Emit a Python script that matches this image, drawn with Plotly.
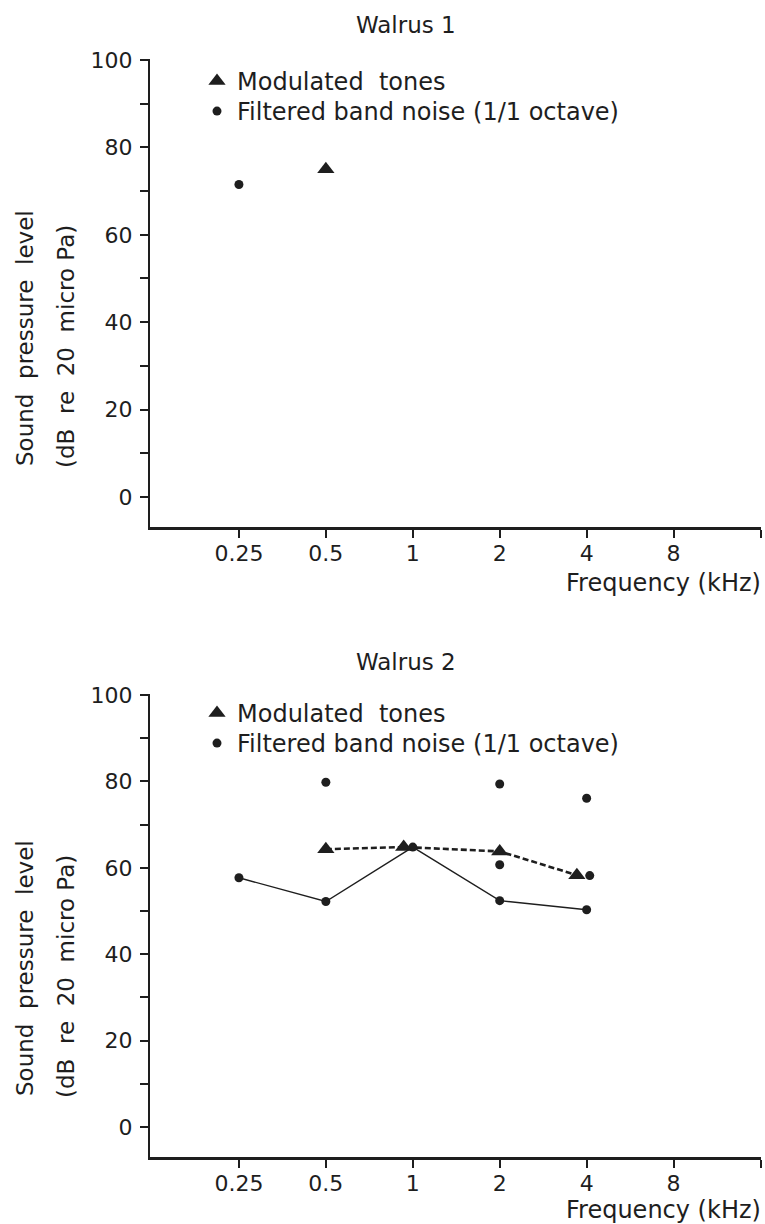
import math
import plotly.graph_objects as go

W, H = 765, 1224

# ---------------- data ----------------
freq_ticks = [0.25, 0.5, 1, 2, 4, 8, 16]
freq_tick_text = ["0.25", "0.5", "1", "2", "4", "8", ""]
spl_ticks = [0, 20, 40, 60, 80, 100]

# Walrus 1
w1_tone_f = [0.5]
w1_tone_db = [75.0]
w1_noise_f = [0.25]
w1_noise_db = [71.5]

# Walrus 2
w2_tone_f = [0.5, 0.93, 2, 3.7]
w2_tone_db = [64.3, 64.8, 63.8, 58.3]
w2_noise_line_f = [0.25, 0.5, 1, 2, 4]
w2_noise_line_db = [57.7, 52.2, 64.8, 52.4, 50.3]
w2_noise_other_f = [0.5, 2, 4, 2, 4.1]
w2_noise_other_db = [79.8, 79.4, 76.1, 60.7, 58.2]

TONE_LABEL = "Modulated  tones"
NOISE_LABEL = "Filtered band noise (1/1 octave)"

INK = "#1e1e1e"
FONT = "DejaVu Sans"


def px_x(p):
    return p / W


def px_y(p):
    return 1 - p / H


fig = go.Figure()

# ---- Walrus 1 ----
fig.add_trace(go.Scatter(
    x=w1_tone_f, y=w1_tone_db, mode="markers", name=TONE_LABEL,
    marker=dict(symbol="triangle-up", size=15, color=INK),
    xaxis="x", yaxis="y", legend="legend"))
fig.add_trace(go.Scatter(
    x=w1_noise_f, y=w1_noise_db, mode="markers", name=NOISE_LABEL,
    marker=dict(symbol="circle", size=9, color=INK),
    xaxis="x", yaxis="y", legend="legend2"))

# ---- Walrus 2 ----
fig.add_trace(go.Scatter(
    x=w2_tone_f, y=w2_tone_db, mode="lines", showlegend=False,
    line=dict(color=INK, width=2.6, dash="6px,3px"),
    xaxis="x2", yaxis="y2"))
fig.add_trace(go.Scatter(
    x=w2_noise_line_f, y=w2_noise_line_db, mode="lines+markers", showlegend=False,
    line=dict(color=INK, width=1.4),
    marker=dict(symbol="circle", size=9, color=INK),
    xaxis="x2", yaxis="y2"))
fig.add_trace(go.Scatter(
    x=w2_tone_f, y=w2_tone_db, mode="markers", name=TONE_LABEL,
    marker=dict(symbol="triangle-up", size=15, color=INK),
    xaxis="x2", yaxis="y2", legend="legend3"))
fig.add_trace(go.Scatter(
    x=w2_noise_other_f, y=w2_noise_other_db, mode="markers", name=NOISE_LABEL,
    marker=dict(symbol="circle", size=9, color=INK),
    xaxis="x2", yaxis="y2", legend="legend4"))

# ---- axes ----
xdom = [px_x(150), px_x(761)]
oct_px = 87.0
lo = math.log10(0.125) - (2.0 / oct_px) * math.log10(2)
hi = math.log10(16) + (0.5 / oct_px) * math.log10(2)
xrange_log = [lo, hi]

ylo, yhi = -6.9, 100.3


def ydomain(p0, p100):
    s = (p0 - p100) / 100.0
    top = p0 - yhi * s
    bot = p0 - ylo * s
    return [px_y(bot), px_y(top)]


xax = dict(
    type="log", range=xrange_log, domain=xdom, automargin=False,
    tickmode="array", tickvals=freq_ticks, ticktext=freq_tick_text,
    ticks="outside", ticklen=8, tickwidth=2, tickcolor=INK,
    showline=True, linewidth=2.6, linecolor=INK,
    showgrid=False, zeroline=False,
    tickfont=dict(family=FONT, size=22, color=INK),
    ticklabelstandoff=-3,
)
yax = dict(
    range=[ylo, yhi], automargin=False,
    tickmode="array", tickvals=spl_ticks,
    ticks="outside", ticklen=8, tickwidth=2, tickcolor=INK,
    minor=dict(ticks="outside", ticklen=8, tickwidth=2, tickcolor=INK,
               tickmode="linear", tick0=0, dtick=10),
    showline=True, linewidth=2.2, linecolor=INK,
    showgrid=False, zeroline=False,
    tickfont=dict(family=FONT, size=22, color=INK),
    ticklabelstandoff=3,
)

fig.update_layout(
    xaxis=dict(xax, anchor="y"),
    yaxis=dict(yax, anchor="x", domain=ydomain(497, 60)),
    xaxis2=dict(xax, anchor="y2"),
    yaxis2=dict(yax, anchor="x2", domain=ydomain(1127, 695)),
)

legend_style = dict(
    font=dict(family=FONT, size=24, color=INK),
    bgcolor="rgba(0,0,0,0)", borderwidth=0,
    xanchor="left", yanchor="top",
    itemsizing="trace",
)
LEG_X = px_x(197)
fig.update_layout(
    legend=dict(legend_style, x=LEG_X, y=px_y(59)),
    legend2=dict(legend_style, x=LEG_X, y=px_y(89)),
    legend3=dict(legend_style, x=LEG_X, y=px_y(691)),
    legend4=dict(legend_style, x=LEG_X, y=px_y(721)),
)

# ---- annotations ----
ann_font = dict(family=FONT, size=23, color=INK)
annotations = []
for title, ty, fy, off in [("Walrus 1", 25, 583, 0), ("Walrus 2", 662, 1210, 630)]:
    annotations.append(dict(text=title, x=px_x(406), y=px_y(ty), xref="paper", yref="paper",
                            xanchor="center", yanchor="middle", showarrow=False, font=ann_font))
    annotations.append(dict(text="Frequency (kHz)", x=px_x(763), y=px_y(fy),
                            xref="paper", yref="paper", xanchor="right", yanchor="middle",
                            showarrow=False, font=dict(ann_font, size=24)))
    annotations.append(dict(text="Sound  pressure  level", x=px_x(25), y=px_y(338 + off),
                            xref="paper", yref="paper", xanchor="center", yanchor="middle",
                            textangle=-90, showarrow=False, font=ann_font))
    annotations.append(dict(text="(dB  re  20  micro Pa)", x=px_x(66), y=px_y(347 + off),
                            xref="paper", yref="paper", xanchor="center", yanchor="middle",
                            textangle=-90, showarrow=False, font=ann_font))

fig.update_layout(
    width=W, height=H,
    margin=dict(l=0, r=0, t=0, b=0, autoexpand=False),
    paper_bgcolor="white", plot_bgcolor="white",
    showlegend=True,
    annotations=annotations,
)

fig.write_html(
    "out.html",
    config={"displayModeBar": False},
    post_script=(
        "document.body.style.margin='0px';"
        "document.body.style.overflow='hidden';"
    ),
)
